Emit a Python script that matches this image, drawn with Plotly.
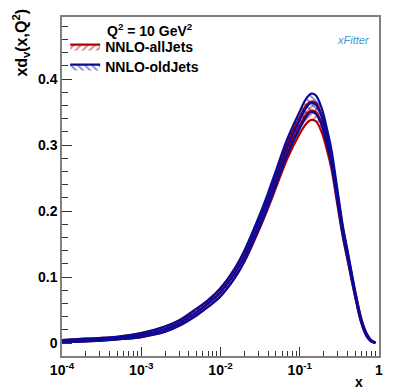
import plotly.graph_objects as go

# ---- data ----
x_vals = [1e-4, 2e-4, 5e-4, 1e-3, 2e-3, 3e-3, 5e-3, 7e-3, 1e-2, 1.5e-2, 2e-2, 3e-2, 4e-2, 5e-2, 7e-2,
          0.1, 0.12, 0.14, 0.16, 0.19, 0.22, 0.25, 0.3, 0.35, 0.4, 0.5, 0.6, 0.7, 0.8, 0.9]
red_central = [0.003, 0.0045, 0.0075, 0.012, 0.021, 0.030, 0.047, 0.060, 0.077, 0.105, 0.131, 0.178, 0.215, 0.246, 0.292,
               0.330, 0.346, 0.352, 0.350, 0.332, 0.305, 0.276, 0.217, 0.167, 0.132, 0.074, 0.033, 0.012, 0.003, 0.0005]
red_err = [0.0015, 0.002, 0.002, 0.003, 0.004, 0.004, 0.005, 0.005, 0.006, 0.007, 0.008, 0.009, 0.010, 0.011, 0.012,
           0.013, 0.014, 0.014, 0.014, 0.013, 0.012, 0.011, 0.009, 0.007, 0.006, 0.004, 0.003, 0.002, 0.001, 0.0005]
blue_central = [0.003, 0.0045, 0.0075, 0.012, 0.021, 0.030, 0.047, 0.060, 0.077, 0.105, 0.132, 0.180, 0.218, 0.250, 0.298,
                0.338, 0.356, 0.364, 0.361, 0.342, 0.313, 0.283, 0.222, 0.170, 0.135, 0.075, 0.033, 0.012, 0.003, 0.0005]
blue_err = [0.0015, 0.002, 0.002, 0.003, 0.004, 0.004, 0.005, 0.005, 0.006, 0.007, 0.008, 0.009, 0.010, 0.011, 0.012,
            0.013, 0.014, 0.014, 0.014, 0.013, 0.012, 0.011, 0.009, 0.007, 0.006, 0.004, 0.003, 0.002, 0.001, 0.0005]

x_tick_vals = [1e-4, 1e-3, 1e-2, 1e-1, 1]
x_tick_text = ["<b>10<sup>-4</sup></b>", "<b>10<sup>-3</sup></b>", "<b>10<sup>-2</sup></b>", "<b>10<sup>-1</sup></b>", "<b>1</b>"]
y_tick_vals = [0, 0.1, 0.2, 0.3, 0.4]
y_tick_text = ["<b>0</b>", "<b>0.1</b>", "<b>0.2</b>", "<b>0.3</b>", "<b>0.4</b>"]

series = [
    ("NNLO-allJets", red_central, red_err, "#b00000", "/", "legend"),
    ("NNLO-oldJets", blue_central, blue_err, "#0a0a9a", "\\", "legend2"),
]

FONT = "Liberation Sans, Arial, sans-serif"
fig = go.Figure()

for name, cen, err, col, shape, leg in series:
    lo = [c - e for c, e in zip(cen, err)]
    hi = [c + e for c, e in zip(cen, err)]
    fig.add_trace(go.Scatter(x=x_vals, y=lo, mode="lines", line=dict(color=col, width=2.2, shape="spline"),
                             showlegend=False, hoverinfo="skip"))
    fig.add_trace(go.Scatter(x=x_vals, y=hi, mode="lines", line=dict(color=col, width=2.2, shape="spline"),
                             fill="tonexty", fillcolor="rgba(0,0,0,0)",
                             fillpattern=dict(shape=shape, fgcolor=col, bgcolor="rgba(0,0,0,0)", size=5, solidity=0.35),
                             name=name, showlegend=True, legend=leg))
    fig.add_trace(go.Scatter(x=x_vals, y=cen, mode="lines", line=dict(color=col, width=2.2, shape="spline"),
                             showlegend=False, hoverinfo="skip"))

minor_x = []
for d in [1e-4, 1e-3, 1e-2, 1e-1]:
    minor_x += [d * k for k in range(2, 10)]

axis_common = dict(showline=True, linecolor="#808080", linewidth=1.5, mirror=True,
                   ticks="inside", tickcolor="#333333", showgrid=False, zeroline=False,
                   tickfont=dict(family=FONT, size=14, color="black"))

fig.update_xaxes(type="log", range=[-4, 0], tickmode="array", tickvals=x_tick_vals, ticktext=x_tick_text,
                 ticklen=9, tickwidth=1,
                 minor=dict(tickmode="array", tickvals=minor_x, ticks="inside", ticklen=5, tickcolor="#333333"),
                 **axis_common)
fig.update_yaxes(range=[-0.0197, 0.494], tickmode="array", tickvals=y_tick_vals, ticktext=y_tick_text,
                 ticklen=10, tickwidth=1,
                 minor=dict(dtick=0.02, ticks="inside", ticklen=6, tickcolor="#333333"),
                 **axis_common)

leg_common = dict(xanchor="left", yanchor="middle", bgcolor="rgba(0,0,0,0)",
                  font=dict(family=FONT, size=14, color="black", weight="bold"), itemwidth=30)

fig.update_layout(
    width=394, height=391,
    margin=dict(l=62, r=11, t=17, b=35),
    paper_bgcolor="white", plot_bgcolor="white",
    font=dict(family=FONT, color="black"),
    legend=dict(x=0.01, y=0.9115, **leg_common),
    legend2=dict(x=0.01, y=0.8525, **leg_common),
    annotations=[
        dict(text="<b>Q<sup>2</sup> = 10 GeV<sup>2</sup></b>", xref="paper", yref="paper",
             x=0.135, y=0.995, xanchor="left", yanchor="top", showarrow=False,
             font=dict(family=FONT, size=14, color="black")),
        dict(text="<b>xd<sub>v</sub>(x,Q<sup>2</sup>)</b>", xref="paper", yref="paper",
             x=-0.13, y=1.03, xanchor="center", yanchor="top", textangle=-90, showarrow=False,
             font=dict(family=FONT, size=16, color="black")),
        dict(text="<b>x</b>", xref="paper", yref="paper", x=0.938, y=-0.077, xanchor="center",
             yanchor="middle", showarrow=False, font=dict(family=FONT, size=14, color="black")),
        dict(text="<i>xFitter</i>", xref="paper", yref="paper", x=0.919, y=0.932, xanchor="center",
             yanchor="middle", showarrow=False, font=dict(family=FONT, size=11, color="#3a9ad9")),
    ],
)

fig.write_html("out.html")
